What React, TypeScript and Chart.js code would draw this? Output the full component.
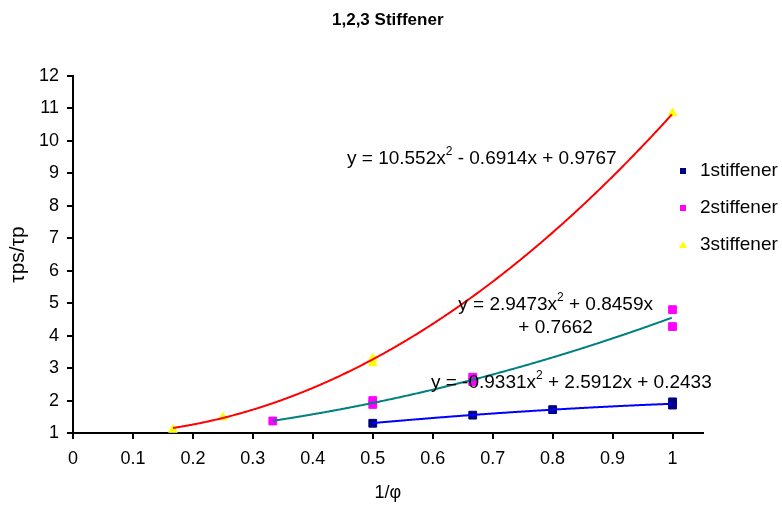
import React, { useEffect, useRef } from "react";
import { Chart, registerables } from "chart.js";

Chart.register(...registerables);

const FONT = '"Liberation Sans", Arial, sans-serif';

// Series data (x = 1/phi, y = tau_ps / tau_p)
const s1X = [0.5, 0.6667, 0.8, 1.0, 1.0];
const s1Y = [1.3, 1.55, 1.72, 1.86, 1.96];
const s2X = [0.3333, 0.5, 0.5, 0.6667, 0.6667, 1.0, 1.0];
const s2Y = [1.37, 1.88, 2.0, 2.58, 2.72, 4.8, 4.28];
const s3X = [0.1667, 0.25, 0.5, 0.5, 1.0];
const s3Y = [1.1, 1.48, 3.15, 3.3, 10.85];

const seriesNames = ["1stiffener", "2stiffener", "3stiffener"];
const seriesColors = ["#000080", "#FF00FF", "#FFFF00"];
const seriesMarkers = ["rect", "rect", "triangle"];

// Polynomial trendline coefficients [a, b, c] for y = a x^2 + b x + c
const trend1 = [-0.9331, 2.5912, 0.2433];
const trend2 = [2.9473, 0.8459, 0.7662];
const trend3 = [10.552, -0.6914, 0.9767];
const trendColors = ["#0000FF", "#008080", "#FF0000"];

// Equation label texts
const eq1 = ["y = -0.9331x", " + 2.5912x + 0.2433"];
const eq2a = ["y = 2.9473x", " + 0.8459x"];
const eq2b = "+ 0.7662";
const eq3 = ["y = 10.552x", " - 0.6914x + 0.9767"];

const chartTitle = "1,2,3 Stiffener";
const xTicks = [0, 0.1, 0.2, 0.3, 0.4, 0.5, 0.6, 0.7, 0.8, 0.9, 1];
const xTickLabels = ["0", "0.1", "0.2", "0.3", "0.4", "0.5", "0.6", "0.7", "0.8", "0.9", "1"];

function polyAt(c: number[], x: number) {
  return c[0] * x * x + c[1] * x + c[2];
}

export default function App() {
  const ref = useRef<HTMLCanvasElement | null>(null);

  useEffect(() => {
    if (!ref.current) return;

    const toPts = (xs: number[], ys: number[]) => xs.map((x, i) => ({ x, y: ys[i] }));
    const sets = [toPts(s1X, s1Y), toPts(s2X, s2Y), toPts(s3X, s3Y)];
    const trends = [
      { c: trend1, xs: s1X },
      { c: trend2, xs: s2X },
      { c: trend3, xs: s3X },
    ];

    const overlay = {
      id: "overlay",
      afterDatasetsDraw(chart: any) {
        const ctx = chart.ctx;
        const xs = chart.scales.x;
        const ys = chart.scales.y;
        ctx.save();
        trends.forEach((t, i) => {
          const x0 = Math.min(...t.xs);
          const x1 = Math.max(...t.xs);
          const p0 = xs.getPixelForValue(x0);
          const p1 = xs.getPixelForValue(x1);
          ctx.beginPath();
          for (let px = p0; px <= p1 + 0.01; px += 1) {
            const xv = xs.getValueForPixel(Math.min(px, p1));
            const py = ys.getPixelForValue(polyAt(t.c, xv));
            if (px === p0) ctx.moveTo(px, py);
            else ctx.lineTo(Math.min(px, p1), py);
          }
          ctx.strokeStyle = trendColors[i];
          ctx.lineWidth = 2;
          ctx.stroke();
        });
        ctx.restore();
      },
      afterDraw(chart: any) {
        const ctx = chart.ctx;
        const xs = chart.scales.x;
        const ys = chart.scales.y;
        const area = chart.chartArea;
        ctx.save();
        // title
        ctx.fillStyle = "#000";
        ctx.textBaseline = "middle";
        ctx.textAlign = "center";
        ctx.font = "bold 17px " + FONT;
        ctx.fillText(chartTitle, (area.left + area.right) / 2, 20);

        const main = "19px " + FONT;
        const sup = "12px " + FONT;
        const drawEq = (parts: string[], left: number, cy: number) => {
          ctx.font = main;
          ctx.textAlign = "left";
          ctx.fillText(parts[0], left, cy);
          let w = ctx.measureText(parts[0]).width;
          ctx.font = sup;
          ctx.fillText("2", left + w, cy - 7);
          w += ctx.measureText("2").width;
          ctx.font = main;
          ctx.fillText(parts[1], left + w, cy);
          return w + ctx.measureText(parts[1]).width;
        };
        const widthOf = (parts: string[]) => {
          ctx.font = main;
          let w = ctx.measureText(parts[0]).width + ctx.measureText(parts[1]).width;
          ctx.font = sup;
          w += ctx.measureText("2").width;
          return w;
        };
        // 3 stiffener equation
        drawEq(eq3, xs.getPixelForValue(0.457), ys.getPixelForValue(9.44));
        // 2 stiffener equation (two centred lines)
        const c2 = xs.getPixelForValue(0.805);
        const w2 = widthOf(eq2a);
        drawEq(eq2a, c2 - w2 / 2, ys.getPixelForValue(4.95));
        ctx.font = main;
        ctx.textAlign = "center";
        ctx.fillText(eq2b, c2, ys.getPixelForValue(4.24));
        // 1 stiffener equation
        drawEq(eq1, xs.getPixelForValue(0.597), ys.getPixelForValue(2.54));

        // legend
        const lx = 683;
        const lys = [171, 208, 245];
        ctx.font = main;
        ctx.textAlign = "left";
        seriesNames.forEach((name, i) => {
          const y = lys[i];
          ctx.fillStyle = seriesColors[i];
          if (seriesMarkers[i] === "triangle") {
            ctx.beginPath();
            ctx.moveTo(lx, y - 4);
            ctx.lineTo(lx + 4, y + 3);
            ctx.lineTo(lx - 4, y + 3);
            ctx.closePath();
            ctx.fill();
          } else {
            ctx.fillRect(lx - 3, y - 3, 6, 6);
          }
          ctx.fillStyle = "#000";
          ctx.fillText(name, 700, y);
        });
        ctx.restore();
      },
    };

    const chart = new Chart(ref.current, {
      type: "scatter",
      data: {
        datasets: sets.map((d, i) => ({
          label: seriesNames[i],
          data: d,
          showLine: false,
          pointStyle: seriesMarkers[i] as any,
          pointRadius: seriesMarkers[i] === "triangle" ? 5 : 5.5,
          pointBackgroundColor: seriesColors[i],
          pointBorderColor: seriesColors[i],
          pointBorderWidth: 1,
        })),
      },
      options: {
        animation: false,
        responsive: false,
        maintainAspectRatio: false,
        layout: { padding: { left: 0, right: 79.5, top: 76, bottom: 0 } },
        plugins: {
          legend: { display: false },
          tooltip: { enabled: false },
          title: { display: false },
        },
        scales: {
          x: {
            type: "linear",
            min: 0,
            max: 1.05,
            afterBuildTicks: (scale: any) => {
              scale.ticks = xTicks.map((v) => ({ value: v }));
            },
            afterFit: (scale: any) => {
              scale.height = 72;
            },
            ticks: {
              color: "#000",
              font: { family: FONT, size: 18 },
              padding: 9,
              maxRotation: 0,
              autoSkip: false,
              callback: (v: any) => {
                const i = xTicks.findIndex((t) => Math.abs(t - Number(v)) < 1e-6);
                return i >= 0 ? xTickLabels[i] : "";
              },
            },
            grid: { drawOnChartArea: false, tickLength: 6, color: "#000", lineWidth: 2 },
            border: { display: true, color: "#000", width: 2 },
            title: {
              display: true,
              text: "1/φ",
              color: "#000",
              font: { family: FONT, size: 18 },
              padding: { top: 0, bottom: 1 },
            },
          },
          y: {
            type: "linear",
            min: 1,
            max: 12,
            afterFit: (scale: any) => {
              scale.width = 73;
            },
            ticks: {
              stepSize: 1,
              color: "#000",
              font: { family: FONT, size: 18 },
              padding: 8,
            },
            grid: { drawOnChartArea: false, tickLength: 6, color: "#000", lineWidth: 2 },
            border: { display: true, color: "#000", width: 2 },
            title: {
              display: true,
              text: "τps/τp",
              color: "#000",
              font: { family: FONT, size: 21 },
              padding: { top: 6, bottom: 0 },
            },
          },
        },
      },
      plugins: [overlay],
    });

    return () => chart.destroy();
  }, []);

  return (
    <div style={{ position: "fixed", left: 0, top: 0, width: 782, height: 505, background: "#fff" }}>
      <canvas ref={ref} width={782} height={505} style={{ display: "block", width: 782, height: 505 }} />
    </div>
  );
}
